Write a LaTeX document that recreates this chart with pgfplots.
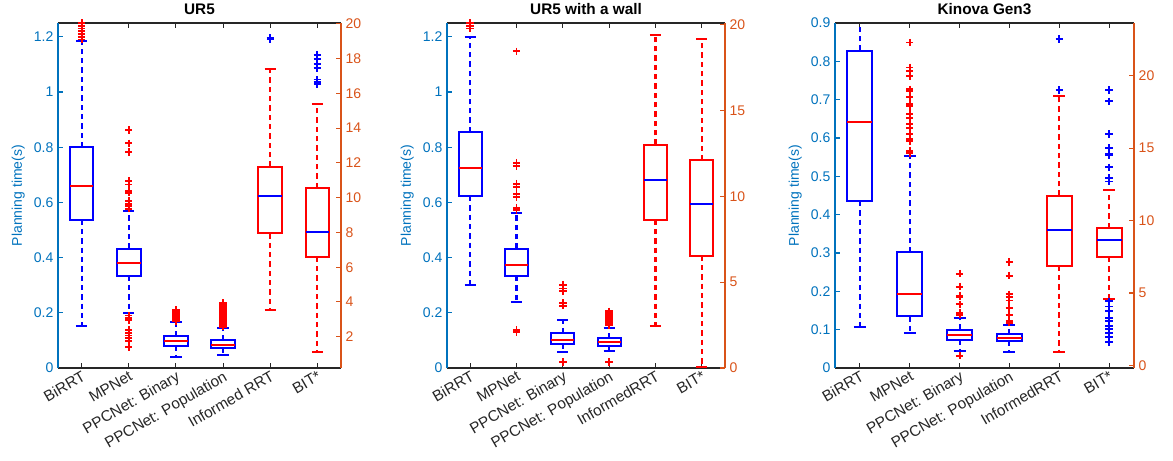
\documentclass[border=0pt]{standalone}
\usepackage{pgfplots}
\pgfplotsset{compat=1.18}
\usepackage{fontspec}
\setmainfont{Liberation Sans}
\definecolor{mblue}{rgb}{0,0.447,0.741}
\definecolor{morange}{rgb}{0.85,0.325,0.098}
\definecolor{mgray}{rgb}{0.15,0.15,0.15}
\definecolor{pblue}{rgb}{0,0,1}
\definecolor{pred}{rgb}{1,0,0}

% box: #1 position, #2 lower whisker, #3 lower quartile, #4 median, #5 upper quartile, #6 upper whisker, #7 box colour, #8 median colour
\newcommand{\bxp}[8]{%
  \pgfmathsetmacro\bxl{#1-0.25}%
  \pgfmathsetmacro\bxr{#1+0.25}%
  \pgfmathsetmacro\bcl{#1-0.12}%
  \pgfmathsetmacro\bcr{#1+0.12}%
  \addplot[color=#7, line width=1.6pt, dash pattern=on 4pt off 3pt] coordinates {(#1,#3) (#1,#2)};
  \addplot[color=#7, line width=1.6pt, dash pattern=on 4pt off 3pt] coordinates {(#1,#5) (#1,#6)};
  \addplot[color=#7, line width=1.5pt] coordinates {(\bcl,#2) (\bcr,#2)};
  \addplot[color=#7, line width=1.5pt] coordinates {(\bcl,#6) (\bcr,#6)};
  \addplot[color=#7, line width=1.5pt, line cap=rect] coordinates {(\bxl,#3) (\bxr,#3) (\bxr,#5) (\bxl,#5) (\bxl,#3)};
  \addplot[color=#8, line width=1.5pt] coordinates {(\bxl,#4) (\bxr,#4)};
}
\newcommand{\outl}[2]{%
  \addplot[color=#1, only marks, mark=+, mark size=2.8pt, mark options={color=#1, line width=1.4pt, solid}] coordinates {#2};
}

\pgfplotsset{
  common/.style={scale only axis, height=258.75pt, anchor=north west,
    xmin=0.5, xmax=6.5,
    font=\fontsize{10.5}{12}\selectfont,
    /pgf/number format/assume math mode=true,
    major tick length=3.5pt, tick align=inside},
  leftax/.style={common, axis x line=box, axis y line*=left,
    x axis line style={-, draw=mgray, line width=1pt},
    y axis line style={-, draw=mblue, line width=1pt},
    xtick={1,2,3,4,5,6},
    xtick style={draw=mgray, line width=0.8pt},
    ytick style={draw=mblue, line width=0.8pt},
    yticklabel style={color=mblue},
    xticklabel style={color=mgray, rotate=30, anchor=north east, inner sep=1pt, font=\fontsize{11.5}{13}\selectfont},
    ylabel={Planning time(s)}, ylabel style={color=mblue},
    title style={font=\bfseries\fontsize{11.5}{13}\selectfont, color=black, yshift=-3pt}},
  rightax/.style={common, axis x line=none, axis y line*=right,
    y axis line style={-, draw=morange, line width=1pt},
    ytick style={draw=morange, line width=0.8pt},
    yticklabel style={color=morange}},
}

\begin{document}
\begin{tikzpicture}
\path[use as bounding box] (0,0) rectangle (879.75pt,-345pt);

% ---------------- Panel 1: UR5 ----------------
\begin{axis}[leftax, at={(43.5pt,-17.25pt)}, width=212.25pt,
  ymin=0, ymax=1.25, ytick={0,0.2,0.4,0.6,0.8,1,1.2},
  xticklabels={BiRRT,MPNet,PPCNet: Binary,PPCNet: Population,Informed RRT,BIT*},
  title={UR5}]
\bxp{1}{0.154}{0.538}{0.659}{0.80}{1.183}{pblue}{pred}
\outl{pred}{(1,1.19)(1,1.20)(1,1.21)(1,1.22)(1,1.23)(1,1.24)(1,1.25)(1,1.26)}
\bxp{2}{0.2}{0.335}{0.381}{0.432}{0.569}{pblue}{pred}
\outl{pred}{(2,0.862)(2,0.814)(2,0.783)(2,0.677)(2,0.665)(2,0.641)(2,0.635)(2,0.605)(2,0.595)(2,0.587)(2,0.577)
  (2,0.19)(2,0.181)(2,0.173)(2,0.139)(2,0.127)(2,0.118)(2,0.109)(2,0.097)(2,0.076)}
\bxp{3}{0.04}{0.081}{0.097}{0.115}{0.166}{pblue}{pred}
\outl{pred}{(3,0.17)(3,0.175)(3,0.18)(3,0.185)(3,0.19)(3,0.195)(3,0.2)(3,0.205)(3,0.21)}
\bxp{4}{0.046}{0.073}{0.085}{0.1}{0.145}{pblue}{pred}
\outl{pred}{(4,0.15)(4,0.155)(4,0.16)(4,0.165)(4,0.17)(4,0.175)(4,0.18)(4,0.185)(4,0.19)(4,0.195)(4,0.2)(4,0.205)(4,0.21)(4,0.215)(4,0.22)(4,0.225)(4,0.23)(4,0.235)}
\end{axis}
\begin{axis}[rightax, at={(43.5pt,-17.25pt)}, width=212.25pt,
  ymin=0.2, ymax=20.05, ytick={2,4,...,20}]
\bxp{5}{3.52}{7.94}{10.12}{11.79}{17.42}{pred}{pblue}
\outl{pblue}{(5,19.1)(5,19.2)}
\bxp{6}{1.13}{6.6}{8.04}{10.56}{15.38}{pred}{pblue}
\outl{pblue}{(6,16.55)(6,16.65)(6,16.8)(6,17.46)(6,17.7)(6,18.0)(6,18.23)}
\end{axis}

% ---------------- Panel 2: UR5 with a wall ----------------
\begin{axis}[leftax, at={(335.25pt,-17.25pt)}, width=208.5pt,
  ymin=0, ymax=1.25, ytick={0,0.2,0.4,0.6,0.8,1,1.2},
  xticklabels={BiRRT,MPNet,PPCNet: Binary,PPCNet: Population,InformedRRT,BIT*},
  title={UR5 with a wall}]
\bxp{1}{0.299}{0.623}{0.726}{0.855}{1.198}{pblue}{pred}
\outl{pred}{(1,1.23)(1,1.24)(1,1.25)(1,1.26)}
\bxp{2}{0.24}{0.333}{0.375}{0.432}{0.562}{pblue}{pred}
\outl{pred}{(2,1.147)(2,0.744)(2,0.732)(2,0.668)(2,0.656)(2,0.629)(2,0.62)(2,0.581)(2,0.572)(2,0.137)(2,0.129)}
\bxp{3}{0.058}{0.088}{0.103}{0.127}{0.175}{pblue}{pred}
\outl{pred}{(3,0.302)(3,0.288)(3,0.278)(3,0.236)(3,0.226)(3,0.021)}
\bxp{4}{0.063}{0.079}{0.093}{0.108}{0.145}{pblue}{pred}
\outl{pred}{(4,0.155)(4,0.16)(4,0.165)(4,0.17)(4,0.175)(4,0.18)(4,0.185)(4,0.19)(4,0.195)(4,0.2)(4,0.205)(4,0.021)}
\end{axis}
\begin{axis}[rightax, at={(335.25pt,-17.25pt)}, width=208.5pt,
  ymin=0, ymax=20.1, ytick={0,5,10,15,20}]
\bxp{5}{2.43}{8.64}{10.97}{13.01}{19.42}{pred}{pblue}
\bxp{6}{0.04}{6.54}{9.57}{12.1}{19.17}{pred}{pblue}
\end{axis}

% ---------------- Panel 3: Kinova Gen3 ----------------
\begin{axis}[leftax, at={(626.25pt,-17.25pt)}, width=224.25pt,
  ymin=0, ymax=0.9, ytick={0,0.1,...,0.9},
  xticklabels={BiRRT,MPNet,PPCNet: Binary,PPCNet: Population,InformedRRT,BIT*},
  title={Kinova Gen3}]
\bxp{1}{0.107}{0.436}{0.642}{0.828}{1.0}{pblue}{pred}
\bxp{2}{0.091}{0.135}{0.192}{0.302}{0.553}{pblue}{pred}
\outl{pred}{(2,0.849)(2,0.784)(2,0.775)(2,0.762)(2,0.727)(2,0.723)(2,0.706)(2,0.688)(2,0.684)(2,0.662)(2,0.653)(2,0.636)(2,0.627)(2,0.61)(2,0.597)(2,0.592)(2,0.566)(2,0.56)}
\bxp{3}{0.044}{0.074}{0.085}{0.1}{0.131}{pblue}{pred}
\outl{pred}{(3,0.246)(3,0.212)(3,0.189)(3,0.186)(3,0.166)(3,0.144)(3,0.139)(3,0.032)}
\bxp{4}{0.041}{0.07}{0.077}{0.089}{0.111}{pblue}{pred}
\outl{pred}{(4,0.276)(4,0.241)(4,0.192)(4,0.185)(4,0.176)(4,0.157)(4,0.139)(4,0.122)(4,0.118)}
\end{axis}
\begin{axis}[rightax, at={(626.25pt,-17.25pt)}, width=224.25pt,
  ymin=-0.18, ymax=23.64, ytick={0,5,10,15,20}]
\bxp{5}{0.9}{6.88}{9.37}{11.71}{18.62}{pred}{pblue}
\outl{pblue}{(5,22.53)(5,19.03)}
\bxp{6}{4.6}{7.48}{8.68}{9.48}{12.08}{pred}{pblue}
\outl{pblue}{(6,19.03)(6,18.23)(6,15.97)(6,15.0)(6,14.61)(6,14.5)(6,13.67)(6,12.93)(6,12.7)
  (6,4.42)(6,4.07)(6,3.73)(6,3.27)(6,3.04)(6,2.74)(6,2.51)(6,2.23)(6,1.96)(6,1.59)}
\end{axis}
\end{tikzpicture}
\end{document}
